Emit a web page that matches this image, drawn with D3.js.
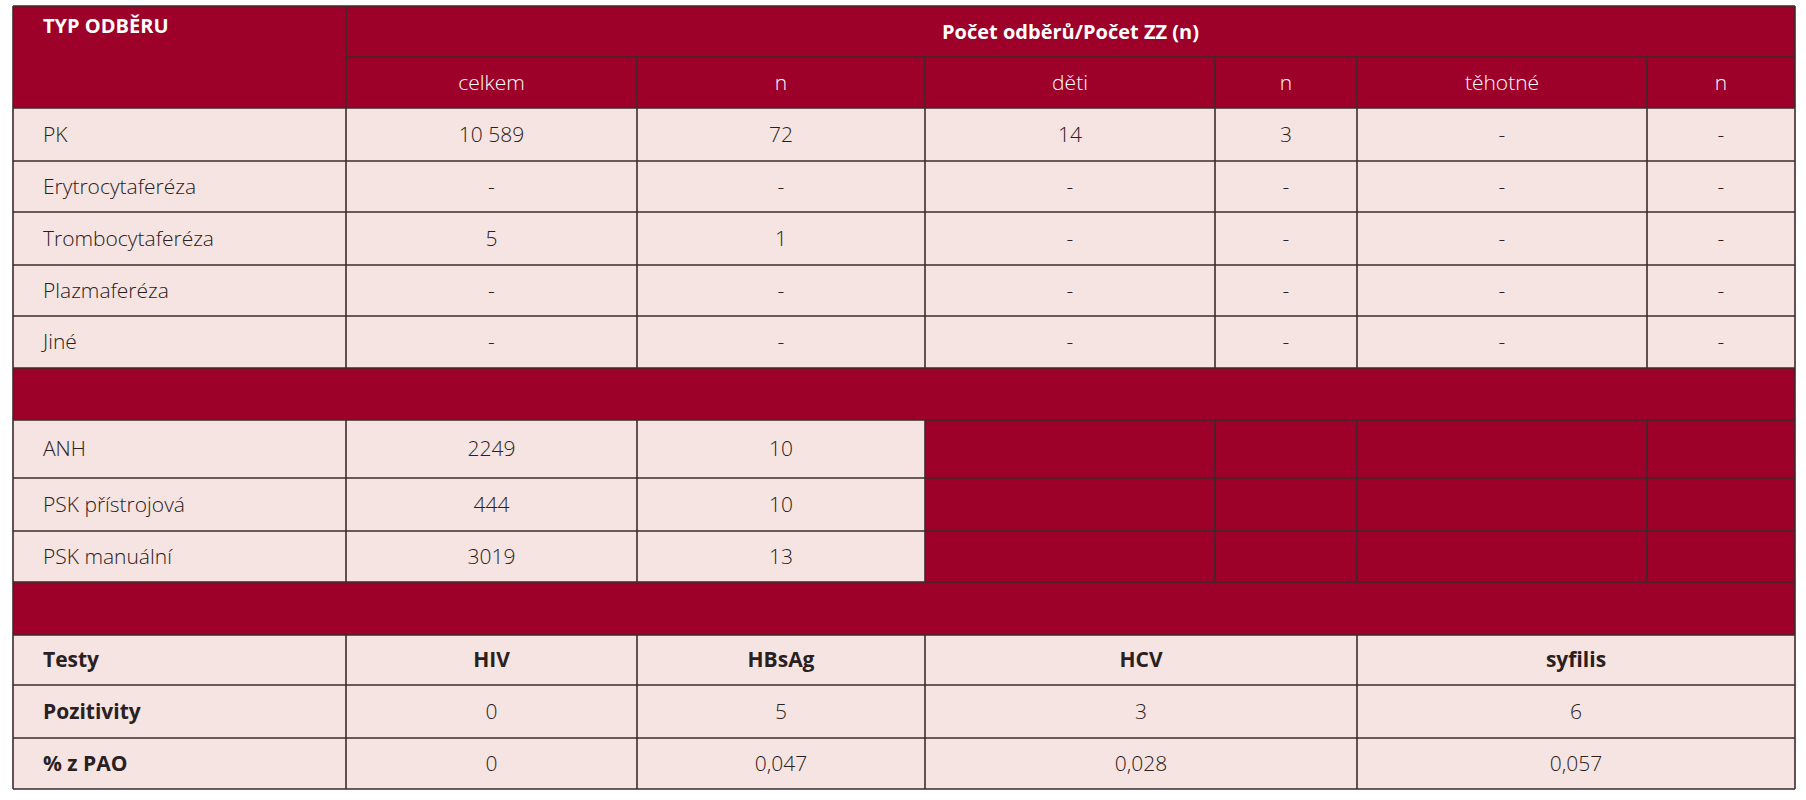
<!DOCTYPE html>
<html><head><meta charset="utf-8">
<script src="https://cdn.jsdelivr.net/npm/d3@7"></script>
<style>body{margin:0;background:#fff}</style></head>
<body><svg id="c" width="1806" height="800"></svg>
<script>
const title = "TYP ODBĚRU";
const groupTitle = "Počet odběrů/Počet ZZ (n)";
const subHeaders = ["celkem","n","děti","n","těhotné","n"];
const rowsA = ["PK","Erytrocytaferéza","Trombocytaferéza","Plazmaferéza","Jiné"];
const valuesA = [
  ["10 589","72","14","3","-","-"],
  ["-","-","-","-","-","-"],
  ["5","1","-","-","-","-"],
  ["-","-","-","-","-","-"],
  ["-","-","-","-","-","-"]];
const rowsB = ["ANH","PSK přístrojová","PSK manuální"];
const valuesB = [["2249","10"],["444","10"],["3019","13"]];
const testRows = ["Testy","Pozitivity","% z PAO"];
const tests = ["HIV","HBsAg","HCV","syfilis"];
const positives = ["0","5","3","6"];
const percents = ["0","0,047","0,028","0,057"];

const colEdges = [13,346,637,925,1215,1357,1647,1795];
const rowEdges = [6,57,108,161,212,265,316,368,420,478,531,582,635,685,738,789];
const RED="#9d0028", PINK="#f5e4e1", LINE="#3b2b2b", FONT="'Open Sans', sans-serif";
const svg=d3.select("#c");
const x=d3.scaleOrdinal().domain(d3.range(8)).range(colEdges);
const y=d3.scaleOrdinal().domain(d3.range(16)).range(rowEdges);
const L=x(0),R=x(7);
function rect(x0,y0,x1,y1,fill){svg.append("rect").attr("x",x0).attr("y",y0).attr("width",x1-x0).attr("height",y1-y0).attr("fill",fill);}
function line(x0,y0,x1,y1,c){svg.append("line").attr("x1",x0).attr("y1",y0).attr("x2",x1).attr("y2",y1).attr("stroke",c||LINE).attr("stroke-width",1.6);}
function text(t,cx,cy,opt={}){svg.append("text").attr("x",cx).attr("y",cy).attr("dy","0.35em")
  .attr("text-anchor",opt.anchor||"middle").attr("font-family",FONT).attr("font-size",opt.size||21)
  .attr("font-weight",opt.weight||300).attr("fill",opt.fill||"#2a2020").text(t);}
const mid=(a,b)=>(a+b)/2;
// backgrounds
rect(L,y(0),R,y(15),PINK);
rect(L,y(0),R,y(2),RED);
rect(L,y(7),R,y(8),RED);
rect(L,y(11),R,y(12),RED);
rect(x(3),y(8),R,y(11),RED);
// header
text(title,L+30,mid(y(0),y(1))-6,{anchor:"start",weight:700,fill:"#fff",size:20});
text(groupTitle,mid(x(1),R),mid(y(0),y(1)),{weight:700,fill:"#fff",size:20});
subHeaders.forEach((h,i)=>text(h,mid(x(i+1),x(i+2)),mid(y(1),y(2)),{fill:"#fff"}));
// section A
rowsA.forEach((r,j)=>{
  const yc=mid(y(2+j),y(3+j));
  text(r,L+30,yc,{anchor:"start"});
  valuesA[j].forEach((v,i)=>text(v,mid(x(i+1),x(i+2)),yc));
});
rowsB.forEach((r,j)=>{
  const yc=mid(y(8+j),y(9+j));
  text(r,L+30,yc,{anchor:"start"});
  valuesB[j].forEach((v,i)=>text(v,mid(x(i+1),x(i+2)),yc));
});
const tcols=[[x(1),x(2)],[x(2),x(3)],[x(3),x(5)],[x(5),x(7)]];
[tests,positives,percents].forEach((arr,j)=>{
  const yc=mid(y(12+j),y(13+j));
  text(testRows[j],L+30,yc,{anchor:"start",weight:700});
  arr.forEach((v,i)=>text(v,mid(tcols[i][0],tcols[i][1]),yc,{weight:j===0?700:300}));
});
// grid lines
[0,2,3,4,5,6,7,8,11,12,13,14,15].forEach(k=>line(L,y(k),R,y(k)));
line(x(1),y(1),R,y(1));
[9,10].forEach(k=>line(L,y(k),R,y(k)));
line(L,y(0),L,y(15)); line(R,y(0),R,y(15));
line(x(1),y(0),x(1),y(7));
for(let i=2;i<7;i++) line(x(i),y(1),x(i),y(7));
for(let i=1;i<7;i++) line(x(i),y(8),x(i),y(11));
[1,2,3,5].forEach(i=>line(x(i),y(12),x(i),y(15)));
</script></body></html>
